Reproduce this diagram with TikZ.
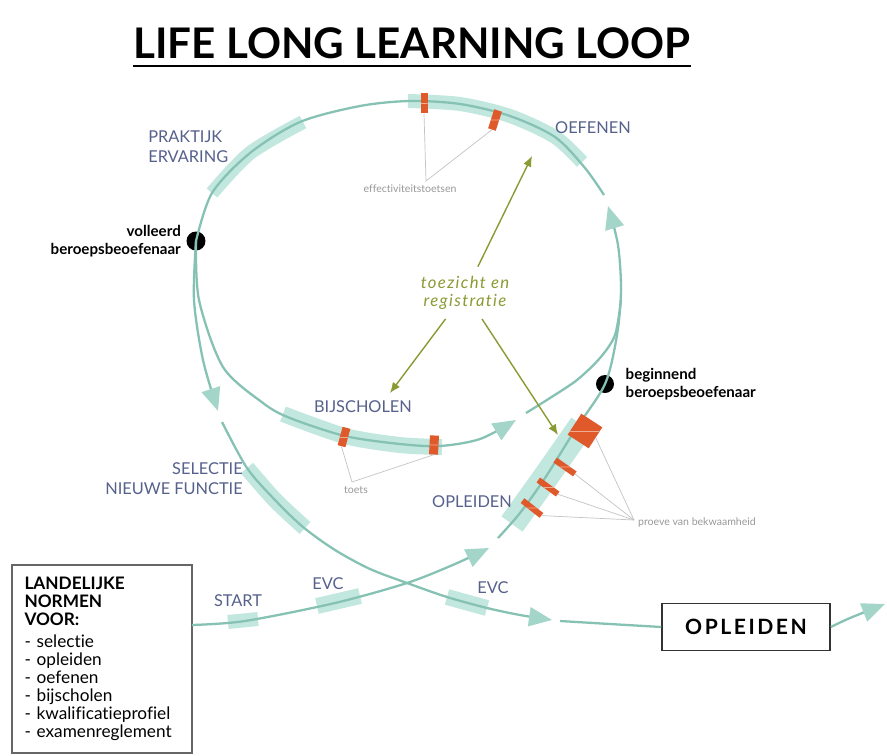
\documentclass[tikz,border=0pt]{standalone}
\usepackage{fontspec}
\setmainfont{Lato}[Ligatures={TeX,NoCommon,NoRare,NoContextual}]
\usepackage{tikz}
\usetikzlibrary{arrows.meta,positioning,calc}
\definecolor{lus}{HTML}{86C2B3}
\definecolor{lusband}{HTML}{C2E7DF}
\definecolor{pijlkop}{HTML}{A3D6C9}
\definecolor{oranje}{HTML}{E0592B}
\definecolor{leisteen}{HTML}{56618C}
\definecolor{olijf}{HTML}{8C9A33}
\definecolor{lijngrijs}{HTML}{C4C4C4}

\begin{document}
\begin{tikzpicture}[
  x=0.02cm, y=-0.02cm,
  spoor/.style={draw=lus, line width=1.3pt},
  spoorpijl/.style={spoor, -{Triangle[length=0.46cm, width=0.38cm, color=pijlkop]}},
  band/.style={draw=lusband, line width=0.28cm},
  fase/.style={font=\fontsize{9.3}{11.5}\selectfont, text=leisteen, inner sep=0pt},
  stip/.style={circle, fill=black, minimum size=0.38cm, inner sep=0pt},
  persoon/.style={font=\fontsize{8.6}{10.5}\selectfont\bfseries, inner sep=0pt},
  toets/.style={fill=oranje, inner sep=0pt, path picture={\draw[white!50!oranje, line width=0.5pt] (path picture bounding box.west) -- (path picture bounding box.east);}},
  wijzer/.style={draw=lijngrijs, line width=0.4pt},
  klein/.style={font=\fontsize{6}{7}\selectfont, text=gray!80, inner sep=1pt},
  toezichtpijl/.style={draw=olijf, line width=0.8pt, -{Latex[length=6pt, width=5pt]}, shorten <=2pt}
]
\useasboundingbox[fill=white] (0,0) rectangle (887,755);

\node[font=\fontsize{24}{28}\selectfont\bfseries, inner sep=0pt] (titel) at (412,43) {LIFE LONG LEARNING LOOP};
\draw[line width=1.6pt] ([yshift=-4pt]titel.south west) -- ([yshift=-4pt]titel.south east);

\node[draw=gray!80!black, line width=1pt, minimum width=3.6cm, minimum height=3.76cm,
  text width=3.1cm, align=left, inner sep=0.24cm, font=\fontsize{9.8}{10.2}\selectfont] (normen) at (102,659)
  {\textbf{LANDELIJKE}\\ \textbf{NORMEN}\\ \textbf{VOOR:}\\[2.5pt]
   - selectie\\ - opleiden\\ - oefenen\\ - bijscholen\\ - kwalificatieprofiel\\ - examenreglement};
\node[draw=black!80, line width=0.9pt, minimum width=3.36cm, minimum height=0.94cm,
  font=\fontsize{12}{14}\selectfont\bfseries\addfontfeature{LetterSpace=12}] (opleidenbox) at (746,627) {OPLEIDEN};

% light bands under the loop
\draw[band] plot[smooth] coordinates {(212,193) (250,153) (303,122)};
\draw[band] plot[smooth] coordinates {(408,101) (460,104) (510,116) (555,137) (582,162)};
\draw[band, line width=0.32cm] plot[smooth] coordinates {(283,414) (345,436) (400,445) (442,447)};
\draw[band, line width=0.32cm] plot[smooth] coordinates {(247,468) (275,500) (305,528)};
\draw[band, line width=0.52cm] plot[smooth] coordinates {(512,524) (545,478) (582,425)};
\draw[band] (228,622) -- (258,619);
\draw[band, line width=0.32cm] (317,606) -- (360,596);
\draw[band, line width=0.32cm] (447,597) -- (487,608);

\node[stip] (volleerd) at (196,241) {};
\node[stip, minimum size=0.36cm] (beginnend) at (605,384) {};
\coordinate (start) at (192,625);

% the loop, piece by piece
\draw[spoorpijl] plot[smooth] coordinates {(start) (245,621) (335,603) (407,583) (455,564) (489,548)};
\draw[spoorpijl] plot[smooth] coordinates {(498,538) (520,513) (545,478) (575,430) (beginnend.center) (617,335) (621,290) (618,245) (608,206)};
\draw[spoor] plot[smooth] coordinates {(604,195) (585,168) (555,137) (510,116) (460,104) (410,101) (360,106) (300,122) (250,153) (212,193) (volleerd.center)};
\draw[spoorpijl] plot[smooth] coordinates {(volleerd.center) (194,300) (203,360) (218,411)};
\draw[spoorpijl] plot[smooth] coordinates {(222,422) (247,468) (275,500) (303,527) (335,550) (370,569) (407,583) (447,597) (487,608) (520,615) (552,620)};
\draw[spoor] plot[smooth] coordinates {(560,621) (610,624) (opleidenbox.west)};
\draw[spoorpijl] plot[smooth] coordinates {(opleidenbox.east) (850,618) (885,604)};
\draw[spoorpijl] plot[smooth] coordinates {(volleerd.center) (199,300) (223,367) (263,403) (290,418) (345,436) (400,444) (440,446) (480,439) (516,420)};
\draw[spoor] plot[smooth] coordinates {(526,413) (550,398) (577,380) (600,358) (615,335) (621,300)};

% toetsmomenten
\node[toets, minimum width=0.14cm, minimum height=0.4cm] (t1) at (424,103) {};
\node[toets, minimum width=0.16cm, minimum height=0.4cm, rotate=-18] (t2) at (495,120) {};
\node[toets, minimum width=0.16cm, minimum height=0.38cm, rotate=-15] (t3) at (344,437) {};
\node[toets, minimum width=0.18cm, minimum height=0.38cm, rotate=-3] (t4) at (434,445) {};
\node[toets, minimum width=0.5cm, minimum height=0.5cm, rotate=57] (p1) at (585,431) {};
\node[toets, minimum width=0.12cm, minimum height=0.48cm, rotate=55] (p2) at (565,467) {};
\node[toets, minimum width=0.12cm, minimum height=0.48cm, rotate=54] (p3) at (548,487) {};
\node[toets, minimum width=0.12cm, minimum height=0.48cm, rotate=52] (p4) at (532,508) {};

\coordinate (effectpunt) at (426,181);
\coordinate (toetspunt) at (352,482);
\coordinate (proevepunt) at (634,520);
\draw[wijzer] (t1.south) -- (effectpunt) -- (t2.south);
\draw[wijzer] (t3.south) -- (toetspunt) -- (t4.south);
\foreach \p in {p1,p2,p3,p4} \draw[wijzer] (\p.south) -- (proevepunt);
\node[klein] (effect) at (410,189) {effectiviteitstoetsen};
\node[klein] (toetstekst) at (356,490) {toets};
\node[klein, anchor=west] (proeve) at (636,523) {proeve van bekwaamheid};

\node[persoon, left=0.1cm of volleerd, align=right] (volleerdtekst) {volleerd\\beroepsbeoefenaar};
\node[persoon, right=0.22cm of beginnend, align=left] (beginnendtekst) {beginnend\\beroepsbeoefenaar};

\node[fase, anchor=west, align=left] (praktijk) at (148,147) {PRAKTIJK\\ERVARING};
\node[fase] (oefenen) at (593,128) {OEFENEN};
\node[fase] (bijscholen) at (363,407) {BIJSCHOLEN};
\node[fase, anchor=east, align=right] (selectie) at (243,479) {SELECTIE\\NIEUWE FUNCTIE};
\node[fase] (opleiden) at (472,502) {OPLEIDEN};
\node[fase] (start) at (238,601) {START};
\node[fase] (evc1) at (328,584) {EVC};
\node[fase] (evc2) at (493,588) {EVC};

\node[font=\fontsize{9.5}{10.5}\selectfont\itshape\addfontfeature{LetterSpace=8}, text=olijf, align=center] (toezicht) at (465,293) {toezicht en\\registratie};
\coordinate (doeloefenen) at (532,156);
\coordinate (doelbijscholen) at (390,393);
\coordinate (doelopleiden) at (558,435);
\draw[toezichtpijl] (toezicht) -- (doeloefenen);
\draw[toezichtpijl] (toezicht) -- (doelbijscholen);
\draw[toezichtpijl] (toezicht) -- (doelopleiden);
\end{tikzpicture}
\end{document}
